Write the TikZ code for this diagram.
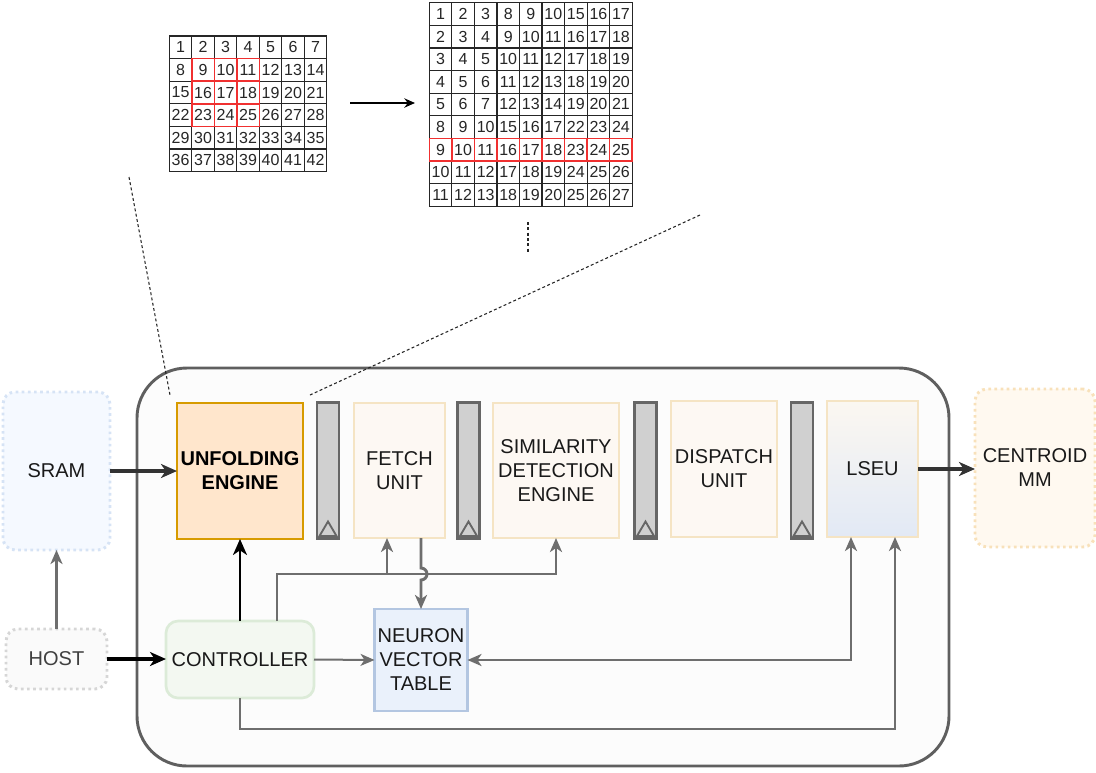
\documentclass[tikz,border=0pt]{standalone}
\usepackage{fontspec}
\setmainfont{Liberation Sans}
\usetikzlibrary{arrows.meta}
\definecolor{chipbg}{HTML}{FCFCFC}
\definecolor{chipln}{HTML}{5F5F5F}
\definecolor{sramFill}{HTML}{F5F9FF}
\definecolor{sramLn}{HTML}{D6E3F5}
\definecolor{hostFill}{HTML}{FAFAFA}
\definecolor{hostLn}{HTML}{D6D6D6}
\definecolor{cmmFill}{HTML}{FFF9F0}
\definecolor{cmmLn}{HTML}{F8E1BA}
\definecolor{unfFill}{HTML}{FFE6CC}
\definecolor{unfLn}{HTML}{D79B00}
\definecolor{stgFill}{HTML}{FDF8F3}
\definecolor{stgLn}{HTML}{F5E4C4}
\definecolor{lseuTop}{HTML}{FBF7F1}
\definecolor{lseuBot}{HTML}{E2E9F5}
\definecolor{ctrlFill}{HTML}{F3F8F1}
\definecolor{ctrlLn}{HTML}{DCEBD8}
\definecolor{nvtFill}{HTML}{EAF1FB}
\definecolor{nvtLn}{HTML}{B3C6E1}
\definecolor{regFill}{HTML}{D0D0D0}
\definecolor{regLn}{HTML}{666666}
\definecolor{wireg}{HTML}{6E6E6E}
\definecolor{wired}{HTML}{333333}
\definecolor{cellRed}{HTML}{F03030}
\newcommand{\blkfont}{\fontsize{15}{18}\selectfont}
\newcommand{\cellfont}{\fontsize{12}{12}\selectfont}
\tikzset{
  gtip/.tip       = {Stealth[length=10.5pt, width=9pt, inset=3pt]},
  ktip/.tip       = {Stealth[length=12pt, width=10.5pt, inset=3.5pt]},
  blk/.style      = {rectangle, draw=stgLn, fill=stgFill, line width=2pt,
                     font=\blkfont, text=black!90, align=center,
                     inner sep=0pt, outer sep=0pt, minimum height=101.25pt},
  blko/.style     = {blk, draw=unfLn, fill=unfFill, font=\blkfont\bfseries,
                     text=black},
  blkl/.style     = {blk, top color=lseuTop, bottom color=lseuBot},
  ext/.style      = {blk, rounded corners=9pt, line width=2.2pt,
                     dash pattern=on 2pt off 2.6pt, minimum height=118.5pt},
  ctl/.style      = {blk, rounded corners=9pt, draw=ctrlLn, fill=ctrlFill},
  nvt/.style      = {blk, draw=nvtLn, fill=nvtFill},
  regbar/.style   = {rectangle, draw=regLn, fill=regFill, line width=2.2pt,
                     inner sep=0pt, outer sep=0pt,
                     minimum width=16.5pt, minimum height=102pt},
  clk/.style      = {draw=regLn, line width=1.4pt},
  chip/.style     = {draw=chipln, fill=chipbg, line width=2.2pt,
                     rounded corners=37.5pt},
  cell/.style     = {rectangle, draw=black!85, line width=0.9pt, fill=white,
                     inner sep=0pt, outer sep=0pt, font=\cellfont,
                     text=black!85, minimum width=16.9pt,
                     minimum height=16.95pt},
  cellred/.style  = {draw=cellRed, line width=1.1pt},
  zoomln/.style   = {draw=black!85, line width=0.8pt,
                     dash pattern=on 2.2pt off 1.8pt},
  arr/.style      = {-ktip, line width=2.6pt, draw=wired},
  arrk/.style     = {-ktip, line width=2.4pt, draw=black},
  arrg/.style     = {-gtip, line width=2.2pt, draw=wireg},
  darrg/.style    = {gtip-gtip, line width=2.2pt, draw=wireg},
}

\begin{document}
\begin{tikzpicture}[x=0.75pt, y=-0.75pt]
  \useasboundingbox (0,0) rectangle (1096,772);

  % feature map and its unfolded form
  \foreach \r in {1,...,6}
    \foreach \c in {1,...,7}{
      \pgfmathtruncatemacro\v{(\r-1)*7+\c}
      \node[cell] (a-\r-\c) at (169.3+22.5*\c-11.25, 36+22.6*\r-11.3) {\v};}
  \foreach \r in {2,3,4}
    \foreach \c in {2,3,4}
      \draw[cellred] (a-\r-\c.south west) rectangle (a-\r-\c.north east);
  \foreach \r in {1,...,9}
    \foreach \c in {1,...,9}{
      \pgfmathtruncatemacro\v{(int((\r-1)/5)+int((\c-1)/3))*7+mod(\r-1,5)+mod(\c-1,3)+1}
      \node[cell] (b-\r-\c) at (429.3+22.55*\c-11.3, 2.7+22.6*\r-11.3) {\v};}
  \foreach \c in {1,...,9}
    \draw[cellred] (b-7-\c.south west) rectangle (b-7-\c.north east);
  \coordinate (unf-from) at (350,103);
  \coordinate (unf-to) at (415,103);
  \draw[-{Stealth[length=8pt, width=7pt]}, line width=1.2pt] (unf-from) -- (unf-to);

  % accelerator
  \draw[chip] (137,368) rectangle (949,766);
  \coordinate (zl-a) at (129,177);
  \coordinate (zl-b) at (170,395);
  \coordinate (zr-a) at (700,215);
  \coordinate (zr-b) at (310,395);
  \coordinate (zm-a) at (528,222);
  \coordinate (zm-b) at (528,252);
  \draw[zoomln] (zl-a) -- (zl-b);
  \draw[zoomln] (zr-a) -- (zr-b);
  \draw[zoomln] (zm-a) -- (zm-b);

  \node[ext, draw=sramLn, fill=sramFill, minimum width=80.25pt]
    (sram) at (56.5,471) {SRAM};
  \node[ext, draw=hostLn, fill=hostFill, text=black!75, minimum width=75.75pt,
    minimum height=45pt] (host) at (56.5,659) {HOST};
  \node[ext, draw=cmmLn, fill=cmmFill, minimum width=90pt]
    (cmm) at (1035,468) {CENTROID\\MM};
  \node[blko, minimum width=94.5pt, minimum height=102pt]
    (unf) at (240,471) {UNFOLDING\\ENGINE};
  \node[blk, minimum width=68.25pt] (fetch) at (399.5,470.5) {FETCH\\UNIT};
  \node[blk, minimum width=94.5pt] (sim) at (556,470.5)
    {SIMILARITY\\DETECTION\\ENGINE};
  \node[blk, minimum width=79.5pt, minimum height=102pt]
    (disp) at (724,469) {DISPATCH\\UNIT};
  \node[blkl, minimum width=68.25pt, minimum height=102pt]
    (lseu) at (872.5,469) {LSEU};
  \node[ctl, minimum width=111pt, minimum height=57.75pt]
    (ctrl) at (240,659.5) {CONTROLLER};
  \node[nvt, minimum width=69.75pt, minimum height=76.5pt]
    (nvt) at (421,660) {NEURON\\VECTOR\\TABLE};

  % pipeline registers
  \foreach \n/\x in {r1/328, r2/468.5, r3/645.5, r4/802}{
    \node[regbar] (\n) at (\x,470.5) {};
    \draw[clk] ([shift={(2.5,-2.5)}]\n.south west) -- ([shift={(0,-17)}]\n.south)
      -- ([shift={(-2.5,-2.5)}]\n.south east) -- cycle;}

  % wires
  \coordinate (busy) at (0,574);
  \coordinate (loopy) at (0,729);
  \coordinate (fin) at ([xshift=-9.375pt]fetch.south);
  \coordinate (lin1) at ([xshift=-16.125pt]lseu.south);
  \coordinate (lin2) at ([xshift=16.875pt]lseu.south);
  \draw[arr] (sram) -- (unf);
  \draw[arrg] (host) -- (sram);
  \draw[arrk] (host.east) -- (host.east -| ctrl.west);
  \draw[arrk, line width=1.8pt] (ctrl) -- (unf);
  \draw[arrg] ([xshift=27.75pt]ctrl.north) |- (fin |- busy) -- (fin);
  \draw[arrg] (fin |- busy) -| (sim.south);
  \draw[arrg] ([xshift=16.125pt]fetch.south) -- ++(0,30) arc(-90:90:6) -- (nvt.north);
  \draw[arrg, line width=1.5pt] (ctrl.east) -- (nvt.west);
  \draw[darrg] (nvt.east) -| (lin1);
  \draw[arrg] (ctrl.south) -- (ctrl.south |- loopy) -| (lin2);
  \draw[arr] (lseu.east) -- (lseu.east -| cmm.west);
\end{tikzpicture}
\end{document}
